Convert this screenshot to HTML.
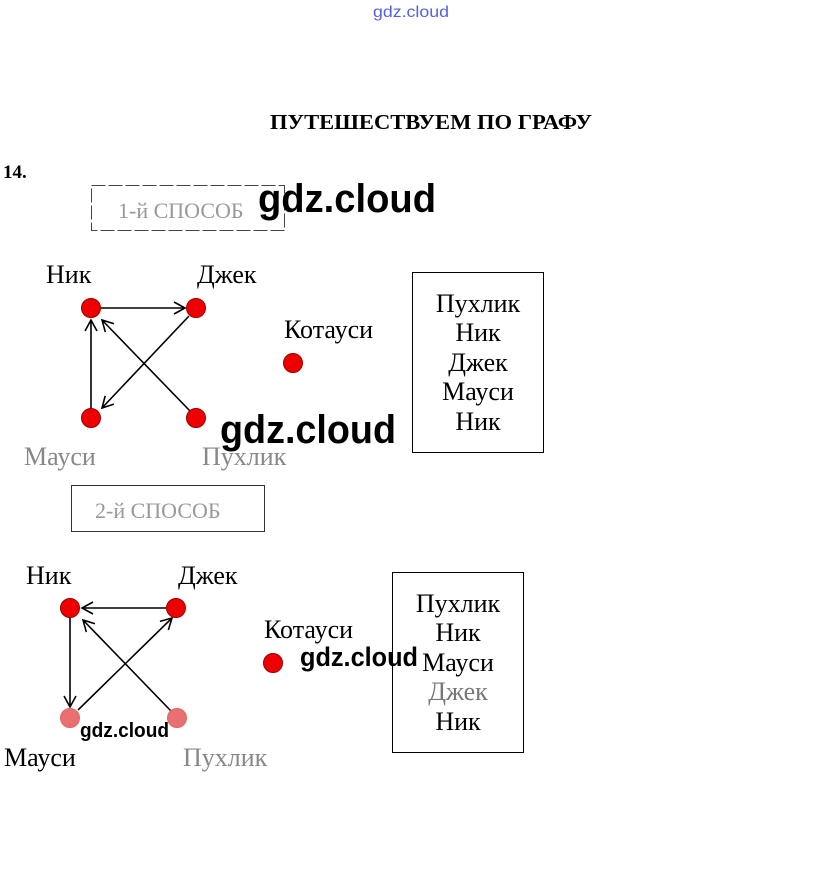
<!DOCTYPE html>
<html><head><meta charset="utf-8"><style>
html,body{margin:0;padding:0;background:#fff;}
svg{display:block;}
.s{font-family:"Liberation Serif",serif;}
.w{font-family:"Liberation Sans",sans-serif;font-weight:bold;fill:#000;}
</style></head><body>
<svg width="823" height="889" viewBox="0 0 823 889" xmlns="http://www.w3.org/2000/svg">
<defs>
<marker id="a" markerWidth="14" markerHeight="14" refX="12" refY="7" orient="auto" markerUnits="userSpaceOnUse">
<path d="M1,1 L12,7 L1,13" fill="none" stroke="#000" stroke-width="1.6"/>
</marker>
</defs>
<text x="373" y="17" textLength="76" lengthAdjust="spacingAndGlyphs" font-family="Liberation Sans,sans-serif" font-size="16" fill="#5560e0">gdz.cloud</text>
<text x="270" y="129" textLength="322" lengthAdjust="spacingAndGlyphs" class="s" font-size="21" font-weight="bold">ПУТЕШЕСТВУЕМ ПО ГРАФУ</text>
<text x="3" y="178" class="s" font-size="19" font-weight="bold">14.</text>

<!-- way 1 -->
<rect x="91.5" y="185.5" width="193" height="45" fill="none" stroke="#444" stroke-dasharray="14,3"/>
<text x="118" y="218" class="s" font-size="22" fill="#999">1-й СПОСОБ</text>
<g stroke="#000" stroke-width="1.6">
<line x1="100" y1="308" x2="185" y2="308" marker-end="url(#a)"/>
<line x1="91" y1="409" x2="91" y2="320" marker-end="url(#a)"/>
<line x1="189" y1="316" x2="102" y2="408" marker-end="url(#a)"/>
<line x1="190" y1="411" x2="102" y2="320" marker-end="url(#a)"/>
</g>
<g fill="#e00" stroke="#900" stroke-width="1">
<circle cx="91" cy="308" r="9.5"/><circle cx="196" cy="308" r="9.5"/>
<circle cx="91" cy="418" r="9.5"/><circle cx="196" cy="418" r="9.5"/>
<circle cx="293" cy="363" r="9.5"/>
</g>
<g class="s" font-size="26">
<text x="46" y="283">Ник</text><text x="197" y="283">Джек</text>
<text x="284" y="338">Котауси</text>
<text x="24" y="465" fill="#888">Мауси</text><text x="202" y="465" fill="#888">Пухлик</text>
</g>
<rect x="412.5" y="272.5" width="131" height="180" fill="none" stroke="#000"/>
<g class="s" font-size="26" text-anchor="middle">
<text x="478" y="312">Пухлик</text><text x="478" y="341">Ник</text><text x="478" y="371">Джек</text><text x="478" y="400">Мауси</text><text x="478" y="430">Ник</text>
</g>

<!-- way 2 -->
<rect x="71.5" y="485.5" width="193" height="46" fill="none" stroke="#333"/>
<text x="95" y="518" class="s" font-size="22" fill="#999">2-й СПОСОБ</text>
<g stroke="#000" stroke-width="1.6">
<line x1="166" y1="608" x2="82" y2="608" marker-end="url(#a)"/>
<line x1="70" y1="618" x2="70" y2="707" marker-end="url(#a)"/>
<line x1="78" y1="710" x2="172" y2="618" marker-end="url(#a)"/>
<line x1="171" y1="711" x2="83" y2="620" marker-end="url(#a)"/>
</g>
<g stroke="#900" stroke-width="1">
<circle cx="70" cy="608" r="9.5" fill="#e00"/><circle cx="176" cy="608" r="9.5" fill="#e00"/>
<circle cx="70" cy="718" r="9.5" fill="#e87070" stroke="#d66"/><circle cx="177" cy="718" r="9.5" fill="#e87070" stroke="#d66"/>
<circle cx="273" cy="663" r="9.5" fill="#e00"/>
</g>
<g class="s" font-size="26">
<text x="26" y="584">Ник</text><text x="178" y="584">Джек</text>
<text x="264" y="638">Котауси</text>
<text x="4" y="766">Мауси</text><text x="183" y="766" fill="#888">Пухлик</text>
</g>
<rect x="392.5" y="572.5" width="131" height="180" fill="none" stroke="#000"/>
<g class="s" font-size="26" text-anchor="middle">
<text x="458" y="612">Пухлик</text><text x="458" y="641">Ник</text><text x="458" y="671">Мауси</text><text x="458" y="700" fill="#777">Джек</text><text x="458" y="730">Ник</text>
</g>

<!-- watermarks -->
<text x="258" y="212" textLength="178" lengthAdjust="spacingAndGlyphs" class="w" font-size="40">gdz.cloud</text>
<text x="220" y="443" textLength="176" lengthAdjust="spacingAndGlyphs" class="w" font-size="40">gdz.cloud</text>
<text x="300" y="666" textLength="118" lengthAdjust="spacingAndGlyphs" class="w" font-size="27">gdz.cloud</text>
<text x="80" y="737" textLength="89" lengthAdjust="spacingAndGlyphs" class="w" font-size="20">gdz.cloud</text>
</svg>
</body></html>
